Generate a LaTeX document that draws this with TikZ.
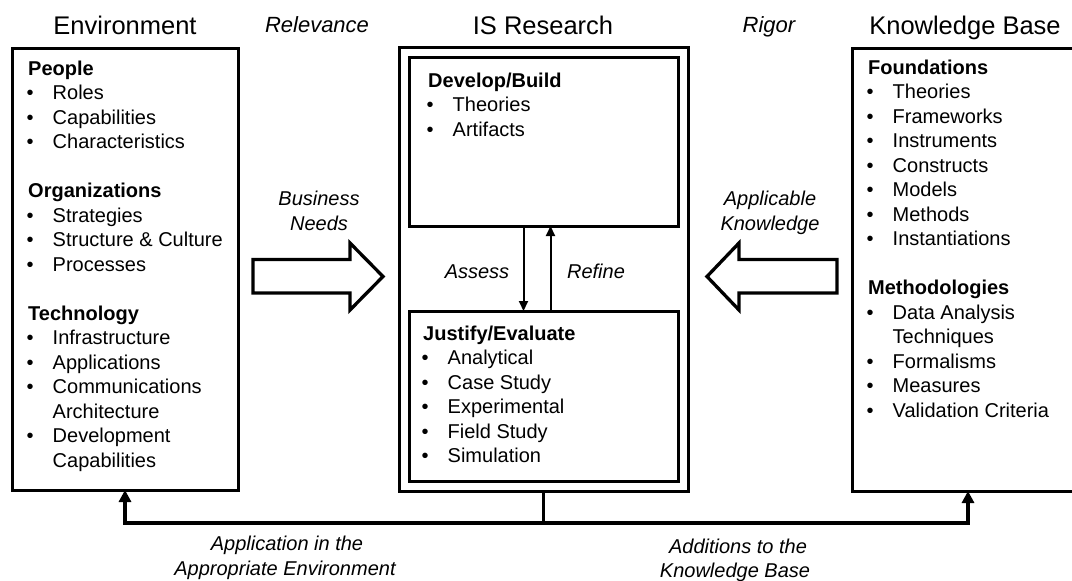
\documentclass[tikz,border=0pt]{standalone}
\usepackage{fontspec}
\setmainfont{Liberation Sans}
\usetikzlibrary{arrows.meta}

% one line of a list: heading, bulleted item, continuation of an item
\newcommand\ListHead[4]{\node[head] (#1) at (#2,#3) {#4};}
\newcommand\ListItem[4]{%
  \node[bul] (#1-b) at (#2-1.5,#3) {\textbullet};
  \node[itm] (#1) at (#2+24.5,#3) {#4};}
\newcommand\ListMore[4]{\node[itm] (#1) at (#2+24.5,#3) {#4};}

\begin{document}
\begin{tikzpicture}[x=1pt,y=-1pt,
  frame/.style={draw, line width=3pt, inner sep=0pt, outer sep=0pt},
  title/.style={anchor=base, inner sep=0pt, font=\fontsize{25.5}{30}\selectfont},
  label/.style={anchor=base, inner sep=0pt, font=\fontsize{20}{24}\selectfont\itshape},
  toplabel/.style={label, font=\fontsize{22}{26}\selectfont\itshape},
  head/.style={anchor=base west, inner sep=0pt, font=\fontsize{20}{24}\selectfont\bfseries},
  itm/.style={anchor=base west, inner sep=0pt, font=\fontsize{20}{24}\selectfont},
  bul/.style={anchor=base west, inner sep=0pt, font=\fontsize{20}{24}\selectfont},
  blockarrow/.style={draw, line width=3.3pt, line join=miter, fill=white},
  bus/.style={draw, line width=3.6pt},
  bustip/.style={-{Triangle[width=12pt,length=12pt]}},
  loop/.style={draw, line width=2pt, -{Triangle[width=9pt,length=10pt]}}]

\clip (0,0) rectangle (1072,581);
\fill[white] (0,0) rectangle (1072,581);

% ---- column titles and the two top labels
\node[title] (t-env) at (125,34) {Environment};
\node[title] (t-isr) at (543,34) {IS Research};
\node[title] (t-kb)  at (965,34) {Knowledge Base};
\node[toplabel] (relevance) at (317,32) {Relevance};
\node[toplabel] (rigor) at (769,32) {Rigor};

% ---- frames
\node[frame, minimum width=226pt, minimum height=442pt] (env) at (125,269) {};
\node[frame, minimum width=289pt, minimum height=444pt] (isr) at (543.5,269) {};
\node[frame, minimum width=269pt, minimum height=169pt] (build) at (543.5,141.5) {};
\node[frame, minimum width=269pt, minimum height=170pt] (eval) at (543.5,396) {};
\node[frame, minimum width=232pt, minimum height=443pt] (kb) at (968,269.5) {};

% ---- Environment contents
\ListHead{p}{28}{75}{People}
\ListItem{p1}{28}{99.5}{Roles}
\ListItem{p2}{28}{124}{Capabilities}
\ListItem{p3}{28}{148.5}{Characteristics}
\ListHead{o}{28}{197.5}{Organizations}
\ListItem{o1}{28}{222}{Strategies}
\ListItem{o2}{28}{246.5}{Structure \& Culture}
\ListItem{o3}{28}{271}{Processes}
\ListHead{t}{28}{320}{Technology}
\ListItem{t1}{28}{344.5}{Infrastructure}
\ListItem{t2}{28}{369}{Applications}
\ListItem{t3}{28}{393.5}{Communications}
\ListMore{t3b}{28}{418}{Architecture}
\ListItem{t4}{28}{442.5}{Development}
\ListMore{t4b}{28}{467}{Capabilities}

% ---- IS Research contents
\ListHead{d}{428}{87}{Develop/Build}
\ListItem{d1}{428}{111.5}{Theories}
\ListItem{d2}{428}{136}{Artifacts}
\ListHead{j}{423}{340}{Justify/Evaluate}
\ListItem{j1}{423}{364.5}{Analytical}
\ListItem{j2}{423}{389}{Case Study}
\ListItem{j3}{423}{413.5}{Experimental}
\ListItem{j4}{423}{438}{Field Study}
\ListItem{j5}{423}{462.5}{Simulation}

% ---- Knowledge Base contents
\ListHead{f}{868}{74}{Foundations}
\ListItem{f1}{868}{98.5}{Theories}
\ListItem{f2}{868}{123}{Frameworks}
\ListItem{f3}{868}{147.5}{Instruments}
\ListItem{f4}{868}{172}{Constructs}
\ListItem{f5}{868}{196.5}{Models}
\ListItem{f6}{868}{221}{Methods}
\ListItem{f7}{868}{245.5}{Instantiations}
\ListHead{m}{868}{294.5}{Methodologies}
\ListItem{m1}{868}{319}{Data Analysis}
\ListMore{m1b}{868}{343.5}{Techniques}
\ListItem{m2}{868}{368}{Formalisms}
\ListItem{m3}{868}{392.5}{Measures}
\ListItem{m4}{868}{417}{Validation Criteria}

% ---- block arrows between the columns
\node[label] (bn1) at (319,205) {Business};
\node[label] (bn2) at (319,230) {Needs};
\draw[blockarrow] (253,259.5) -- (350,259.5) -- (350,243) -- (383,276.5)
  -- (350,310) -- (350,293) -- (253,293) -- cycle;
\node[label] (ak1) at (770,205) {Applicable};
\node[label] (ak2) at (770,230) {Knowledge};
\draw[blockarrow] (837,259.5) -- (739,259.5) -- (739,243) -- (707,276.5)
  -- (739,310) -- (739,293) -- (837,293) -- cycle;

% ---- assess / refine loop
\draw[loop] ([xshift=-20pt]build.south) -- ([xshift=-20pt]eval.north);
\draw[loop] ([xshift=7pt]eval.north) -- ([xshift=7pt]build.north |- build.south);
\node[label] (assess) at (477,278) {Assess};
\node[label] (refine) at (596,278) {Refine};

% ---- feedback to environment and knowledge base
\draw[bus] (isr.south) -- ++(0,32) coordinate (hub);
\draw[bus, bustip] (hub) -| (env.south);
\draw[bus, bustip] (hub) -| (kb.south);
\node[label] (ae1) at (287,550) {Application in the};
\node[label] (ae2) at (285,575) {Appropriate Environment};
\node[label] (kb1) at (738,553) {Additions to the};
\node[label] (kb2) at (735,577) {Knowledge Base};
\end{tikzpicture}
\end{document}
